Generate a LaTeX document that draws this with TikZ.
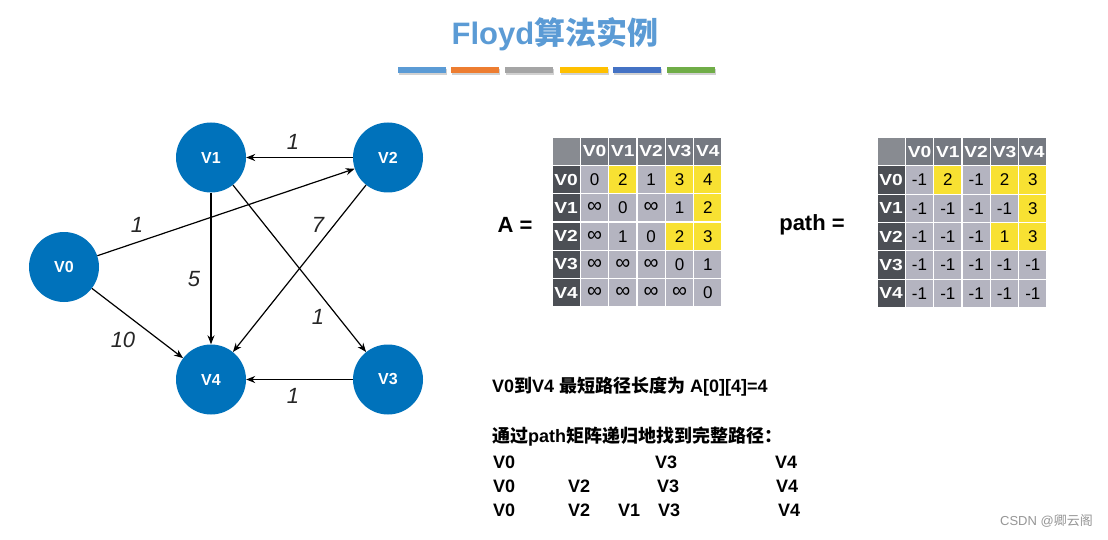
\documentclass[tikz,border=0pt]{standalone}
\usepackage{fontspec}
\setmainfont{Liberation Sans}
\newfontfamily\cjk{Noto Sans CJK SC}
\newfontface\hdfont{Liberation Sans Bold}[FakeStretch=1.2]
\usetikzlibrary{arrows.meta}
\definecolor{nodeblue}{RGB}{0,114,187}
\definecolor{titleblue}{RGB}{91,155,213}
\definecolor{barA}{RGB}{91,155,213}
\definecolor{barB}{RGB}{237,125,49}
\definecolor{barC}{RGB}{165,165,165}
\definecolor{barD}{RGB}{255,192,0}
\definecolor{barE}{RGB}{68,114,196}
\definecolor{barF}{RGB}{112,173,71}
\definecolor{cg}{RGB}{180,180,192}
\definecolor{cy}{RGB}{248,225,50}
\definecolor{headgray}{RGB}{117,121,129}
\definecolor{sidegray}{RGB}{76,79,85}
\definecolor{cornergray}{RGB}{136,139,145}
\definecolor{wmgray}{RGB}{150,150,150}
\newcommand\myinf{{\fontsize{21}{17}\selectfont ∞}}
\tikzset{
  vert/.style={circle, fill=nodeblue, minimum size=70pt, inner sep=0pt, text=white,
    font=\bfseries\fontsize{16}{16}\selectfont},
  edge/.style={-{Stealth[length=9pt,width=7pt]}, line width=1.2pt},
  wlabel/.style={font=\itshape\fontsize{22}{22}\selectfont, inner sep=0pt, text=black!85},
  cell/.style={minimum size=28.33pt, inner sep=0pt, draw=white, line width=1.1pt},
  hcell/.style={cell, text=white, font=\hdfont\fontsize{16}{16}\selectfont},
  bcell/.style={cell, text=black, font=\fontsize{17}{17}\selectfont},
  eqlabel/.style={font=\bfseries\fontsize{22}{22}\selectfont, inner sep=0pt},
  btext/.style={anchor=base west, inner sep=0pt, font=\bfseries\fontsize{18}{18}\selectfont},
  bar/.style={minimum width=48pt, minimum height=6pt, inner sep=0pt},
}
\newcommand\drawmat[4]{%
  \node[cell, fill=cornergray] (#1-0-0) at ({#2+14.165},{#3+14.165}) {};
  \foreach \c in {1,...,5} {
    \pgfmathtruncatemacro\k{\c-1}
    \node[hcell, fill=headgray] (#1-0-\c) at ({#2+(\c+0.5)*28.33},{#3+14.165}) {V\k};
    \node[hcell, fill=sidegray] (#1-\c-0) at ({#2+14.165},{#3+(\c+0.5)*28.33}) {V\k};
  }
  \foreach \vals [count=\r] in {#4} {
    \foreach \v/\f [count=\c] in \vals {
      \node[bcell, fill=\f] (#1-\r-\c) at ({#2+(\c+0.5)*28.33},{#3+(\r+0.5)*28.33}) {\v};
    }
  }
}
\begin{document}
\begin{tikzpicture}[x=1pt,y=-1pt]
\useasboundingbox (0,0) rectangle (1108,540);
\fill[white] (0,0) rectangle (1108,540);

% title
\node[anchor=base, inner sep=0pt, text=titleblue, font=\bfseries\fontsize{31}{31}\selectfont] (title) at (555,45) {Floyd{\cjk\bfseries 算法实例}};
\foreach \x/\col [count=\i] in {422/barA,474.5/barB,528.5/barC,583.5/barD,636.5/barE,691/barF} {
  \fill[black, opacity=0.18] (\x-24+1,67+2) rectangle (\x+24+1,73+2);
  \node[bar, fill=\col] (bar\i) at (\x,70) {};
}

% graph
\node[vert] (v0) at (64,267) {V0};
\node[vert] (v1) at (211,157.5) {V1};
\node[vert] (v2) at (388,157.5) {V2};
\node[vert] (v3) at (388,379.5) {V3};
\node[vert] (v4) at (211,379.5) {V4};
\draw[edge] (v2) -- (v1);
\draw[edge] (v0) -- (v2);
\draw[edge] (v1) -- (v4);
\draw[edge] (v1) -- (v3);
\draw[edge] (v2) -- (v4);
\draw[edge] (v0) -- (v4);
\draw[edge] (v3) -- (v4);
\node[wlabel] (l21) at (293,142) {1};
\node[wlabel] (l02) at (137,225) {1};
\node[wlabel] (l24) at (318,225) {7};
\node[wlabel] (l14) at (194,279) {5};
\node[wlabel] (l13) at (318,317) {1};
\node[wlabel] (l04) at (123,340) {10};
\node[wlabel] (l34) at (293,396) {1};

% matrices
\node[eqlabel] (alabel) at (515,225) {A =};
\drawmat{A}{552}{137}{{0/cg,2/cy,1/cg,3/cy,4/cy},{\myinf/cg,0/cg,\myinf/cg,1/cg,2/cy},{\myinf/cg,1/cg,0/cg,2/cy,3/cy},{\myinf/cg,\myinf/cg,\myinf/cg,0/cg,1/cg},{\myinf/cg,\myinf/cg,\myinf/cg,\myinf/cg,0/cg}}
\node[eqlabel] (plabel) at (812,225) {path =};
\drawmat{P}{877}{137.5}{{-1/cg,2/cy,-1/cg,2/cy,3/cy},{-1/cg,-1/cg,-1/cg,-1/cg,3/cy},{-1/cg,-1/cg,-1/cg,1/cy,3/cy},{-1/cg,-1/cg,-1/cg,-1/cg,-1/cg},{-1/cg,-1/cg,-1/cg,-1/cg,-1/cg}}

% bottom text
\node[btext] (t1) at (492,392) {V0{\cjk\bfseries 到}V4 {\cjk\bfseries 最短路径长度为} A[0][4]=4};
\node[btext] (t2) at (492,442) {{\cjk\bfseries 通过}path{\cjk\bfseries 矩阵递归地找到完整路径：}};
\node[btext] (r1a) at (493,468) {V0};
\node[btext] (r1b) at (655,468) {V3};
\node[btext] (r1c) at (775,468) {V4};
\node[btext] (r2a) at (493,492) {V0};
\node[btext] (r2b) at (568,492) {V2};
\node[btext] (r2c) at (657,492) {V3};
\node[btext] (r2d) at (776,492) {V4};
\node[btext] (r3a) at (493,516) {V0};
\node[btext] (r3b) at (568,516) {V2};
\node[btext] (r3c) at (618,516) {V1};
\node[btext] (r3d) at (658,516) {V3};
\node[btext] (r3e) at (778,516) {V4};

% watermark
\node[anchor=east, inner sep=0pt, text=wmgray, font=\fontsize{13}{13}\selectfont] (wm) at (1093,521) {CSDN @{\cjk 卿云阁}};
\end{tikzpicture}
\end{document}
